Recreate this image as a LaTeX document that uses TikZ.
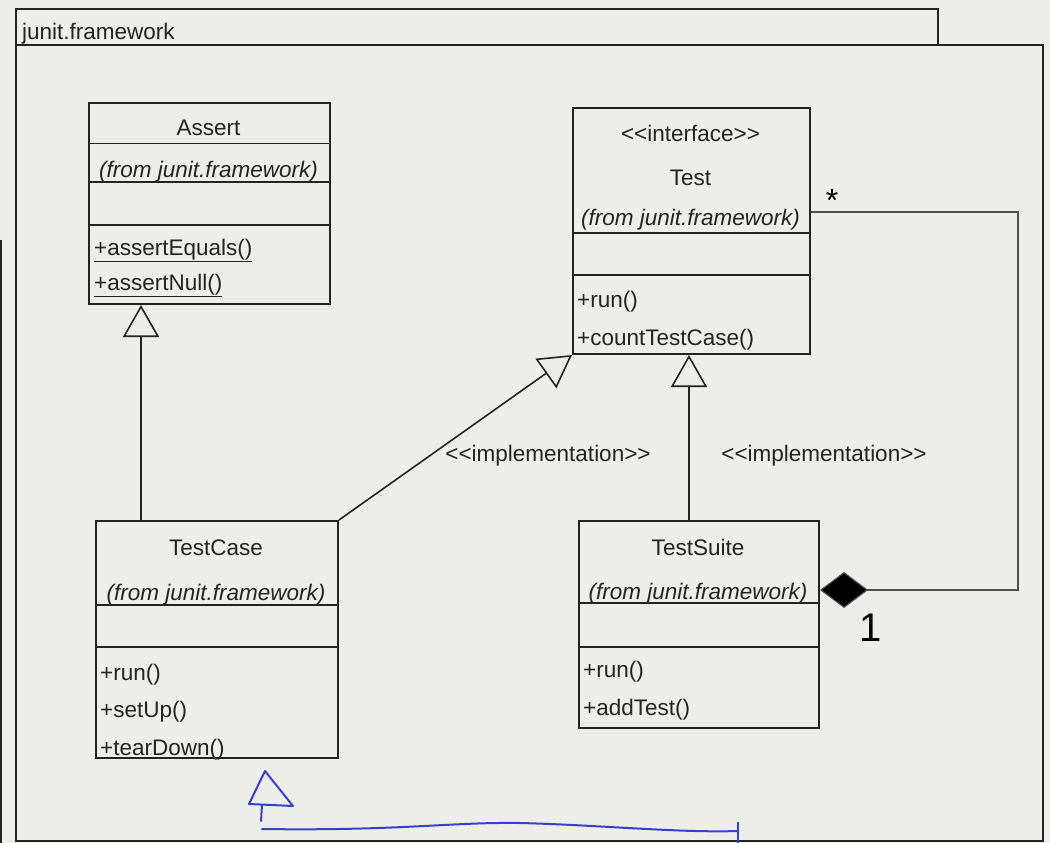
\documentclass[tikz,border=0pt]{standalone}
\usepackage{fontspec}
\setmainfont{Liberation Sans}
\usetikzlibrary{arrows.meta,calc}
\definecolor{paper}{RGB}{237,237,234}
\definecolor{ink}{RGB}{35,35,35}
\definecolor{pen}{RGB}{55,65,200}
\begin{document}
\begin{tikzpicture}[x=1pt,y=-1pt,
  pkgbox/.style={draw=ink, line width=2pt, inner sep=0pt, anchor=north west},
  classbox/.style={draw=ink, line width=2pt, fill=paper, inner sep=0pt, anchor=north west},
  lbl/.style={font=\fontsize{22.5}{26}\selectfont, text=ink, inner sep=0pt, anchor=base},
  meth/.style={lbl, anchor=base west},
  fromlbl/.style={lbl, font=\fontsize{22.5}{26}\selectfont\itshape},
  divider/.style={draw=ink, line width=2pt},
  thindiv/.style={draw=ink, line width=1pt},
  gen/.style={draw=ink, line width=1.6pt, -{Triangle[open,length=32pt,width=36pt,fill=paper]}},
  assoc/.style={draw=ink!80, line width=1.1pt, {Diamond[length=48pt,width=36pt,fill=black]}-},
  mult/.style={text=black, inner sep=0pt}
]
\fill[paper] (0,0) rectangle (1050,843);
\useasboundingbox (0,0) rectangle (1050,843);
\draw[ink, line width=2pt] (1,240) -- (1,843);

% package
\node[pkgbox, minimum width=922pt, minimum height=36pt] (pkgtab) at (15,8) {};
\node[pkgbox, minimum width=1027pt, minimum height=796pt] (pkg) at (15,44) {};
\node[meth] (pkgname) at (22,40) {junit.framework};

% Assert
\node[classbox, minimum width=241pt, minimum height=201pt] (assert) at (88,102) {};
\draw[thindiv] ($(assert.north west)+(0,41)$) -- ($(assert.north east)+(0,41)$);
\draw[divider] ($(assert.north west)+(0,80)$) -- ($(assert.north east)+(0,80)$);
\draw[divider] ($(assert.north west)+(0,123)$) -- ($(assert.north east)+(0,123)$);
\node[lbl] (assertname) at (208.5,135) {Assert};
\node[fromlbl] (assertfrom) at (208.5,177) {(from junit.framework)};
\node[meth] (assertm1) at (94,255) {\underline{+assertEquals()}};
\node[meth] (assertm2) at (94,290) {\underline{+assertNull()}};

% Test
\node[classbox, minimum width=237pt, minimum height=246pt] (test) at (572,107) {};
\draw[divider] ($(test.north west)+(0,126)$) -- ($(test.north east)+(0,126)$);
\draw[divider] ($(test.north west)+(0,168)$) -- ($(test.north east)+(0,168)$);
\node[lbl] (teststereo) at (690.5,141) {<\kern0pt<interface>\kern0pt>};
\node[lbl] (testname) at (690.5,185) {Test};
\node[fromlbl] (testfrom) at (690.5,225) {(from junit.framework)};
\node[meth] (testm1) at (577,307) {+run()};
\node[meth] (testm2) at (577,345) {+countTestCase()};

% TestCase
\node[classbox, minimum width=242pt, minimum height=237pt] (testcase) at (95,520) {};
\draw[divider] ($(testcase.north west)+(0,85)$) -- ($(testcase.north east)+(0,85)$);
\draw[divider] ($(testcase.north west)+(0,127)$) -- ($(testcase.north east)+(0,127)$);
\node[lbl] (tcname) at (216,555) {TestCase};
\node[fromlbl] (tcfrom) at (216,600) {(from junit.framework)};
\node[meth] (tcm1) at (100,680) {+run()};
\node[meth] (tcm2) at (100,717) {+setUp()};
\node[meth] (tcm3) at (100,755) {+tearDown()};

% TestSuite
\node[classbox, minimum width=240pt, minimum height=207pt] (testsuite) at (578,520) {};
\draw[divider] ($(testsuite.north west)+(0,83)$) -- ($(testsuite.north east)+(0,83)$);
\draw[divider] ($(testsuite.north west)+(0,127)$) -- ($(testsuite.north east)+(0,127)$);
\node[lbl] (tsname) at (698,555) {TestSuite};
\node[fromlbl] (tsfrom) at (698,599) {(from junit.framework)};
\node[meth] (tsm1) at (583,677) {+run()};
\node[meth] (tsm2) at (583,715) {+addTest()};

% generalizations
\draw[gen] ($(testcase.north west)+(46,0)$) -- ($(assert.south west)+(53,0)$);
\draw[gen] (testcase.north east) -- (test.south west);
\draw[gen] ($(testsuite.north west)+(111,0)$) -- ($(test.south west)+(117,0)$);
\node[lbl, anchor=center] (impl1) at (548,456) {<\kern0pt<implementation>\kern0pt>};
\node[lbl, anchor=center] (impl2) at (824,456) {<\kern0pt<implementation>\kern0pt>};

% aggregation
\coordinate (dstart) at ($(testsuite.north east)+(0,70)$);
\coordinate (dend) at ($(test.north east)+(0,105)$);
\draw[assoc] (dstart) -- (1018,590) -- (1018,212) -- (dend);
\node[mult, font=\fontsize{32}{32}\selectfont] (star) at (832,200) {*};
\node[mult, font=\fontsize{40}{40}\selectfont] (one) at (871,628) {1};

% hand-drawn blue arrow
\draw[pen, line width=2pt, line join=round] (265,771) -- (249,804) -- (293,806) -- cycle;
\draw[pen, line width=2pt, line cap=round] (262,805) -- (261,821);
\draw[pen, line width=2pt, line cap=round] (262,829) .. controls (400,831) and (450,822) .. (520,823) .. controls (600,825) and (680,833) .. (738,831);
\draw[pen, line width=2pt] (738,822) -- (738,843);
\end{tikzpicture}
\end{document}
